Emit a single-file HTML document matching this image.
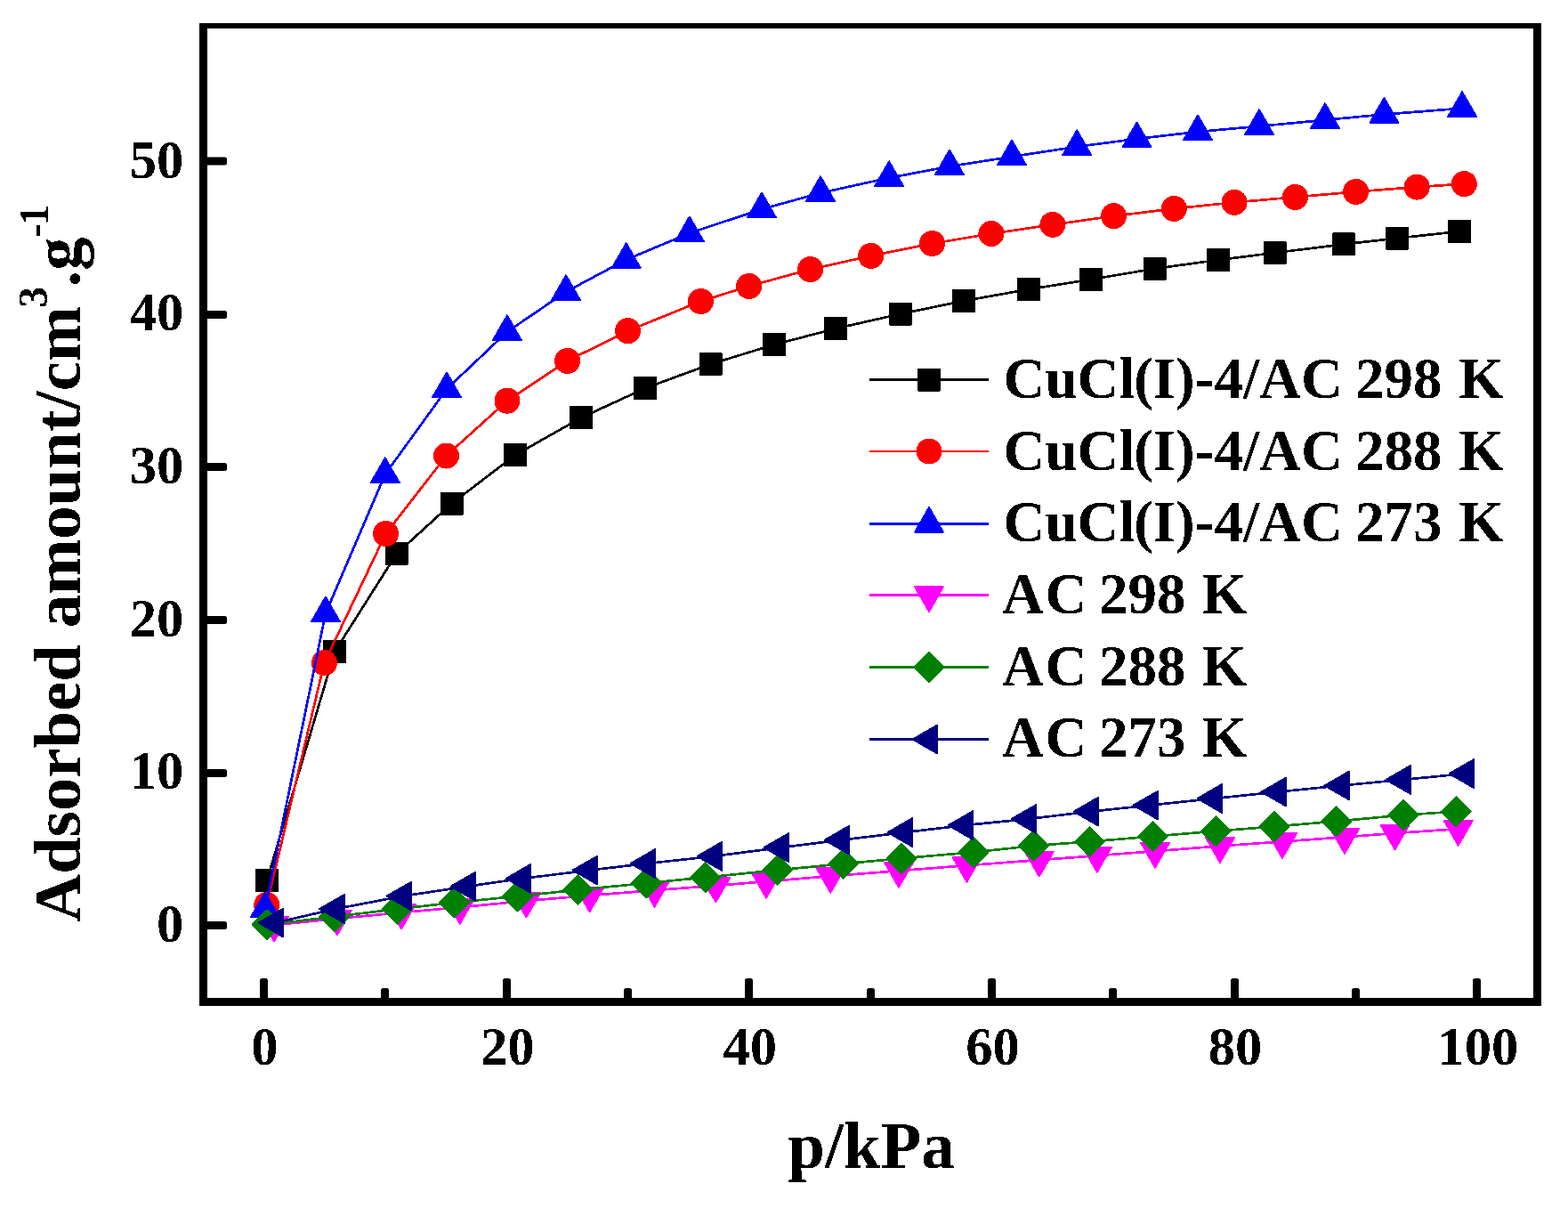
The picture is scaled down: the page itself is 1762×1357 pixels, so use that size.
<!DOCTYPE html>
<html lang="en">
<head>
<meta charset="utf-8">
<style>
html,body{margin:0;padding:0;background:#fff;}
body{width:1762px;height:1357px;overflow:hidden;}
svg{display:block;}
text{font-family:"Liberation Serif",serif;font-weight:bold;fill:#000;}
.tk{font-size:60.6px;}
.lg{font-size:65px;}
.ti{font-size:75px;}
</style>
</head>
<body>
<svg width="1762" height="1357" viewBox="0 0 1762 1357">
<defs><filter id="bw" x="-5%" y="-5%" width="110%" height="110%" color-interpolation-filters="sRGB"><feComponentTransfer><feFuncA type="discrete" tableValues="0 1"/></feComponentTransfer></filter></defs>
<rect x="0" y="0" width="1762" height="1357" fill="#fff"/>

<g shape-rendering="crispEdges" fill="#000">
<rect x="224" y="26" width="1508" height="6"/>
<rect x="224" y="1121" width="1508" height="9"/>
<rect x="224" y="26" width="9" height="1104"/>
<rect x="1723" y="26" width="9" height="1104"/>
</g>
<g fill="#000">
<path d="M292 1122V1101.5q0-2.5 2.5-2.5h4q2.5 0 2.5 2.5V1122z"/>
<path d="M428 1122V1112.5q0-2.5 2.5-2.5h4q2.5 0 2.5 2.5V1122z"/>
<path d="M565 1122V1101.5q0-2.5 2.5-2.5h4q2.5 0 2.5 2.5V1122z"/>
<path d="M701 1122V1112.5q0-2.5 2.5-2.5h4q2.5 0 2.5 2.5V1122z"/>
<path d="M837 1122V1101.5q0-2.5 2.5-2.5h4q2.5 0 2.5 2.5V1122z"/>
<path d="M974 1122V1112.5q0-2.5 2.5-2.5h4q2.5 0 2.5 2.5V1122z"/>
<path d="M1110 1122V1101.5q0-2.5 2.5-2.5h4q2.5 0 2.5 2.5V1122z"/>
<path d="M1246 1122V1112.5q0-2.5 2.5-2.5h4q2.5 0 2.5 2.5V1122z"/>
<path d="M1383 1122V1101.5q0-2.5 2.5-2.5h4q2.5 0 2.5 2.5V1122z"/>
<path d="M1519 1122V1112.5q0-2.5 2.5-2.5h4q2.5 0 2.5 2.5V1122z"/>
<path d="M1655 1122V1101.5q0-2.5 2.5-2.5h4q2.5 0 2.5 2.5V1122z"/>
<path d="M232 1035H252.5q2.5 0 2.5 2.5v4q0 2.5 -2.5 2.5H232z"/>
<path d="M232 864H252.5q2.5 0 2.5 2.5v4q0 2.5 -2.5 2.5H232z"/>
<path d="M232 692H252.5q2.5 0 2.5 2.5v4q0 2.5 -2.5 2.5H232z"/>
<path d="M232 520H252.5q2.5 0 2.5 2.5v4q0 2.5 -2.5 2.5H232z"/>
<path d="M232 349H252.5q2.5 0 2.5 2.5v4q0 2.5 -2.5 2.5H232z"/>
<path d="M232 176.5H252.5q2.5 0 2.5 2.5v4q0 2.5 -2.5 2.5H232z"/>
</g>
<g filter="url(#bw)">
<g class="tk" text-anchor="middle">
<text x="297.5" y="1196">0</text>
<text x="570.2" y="1196">20</text>
<text x="842.8" y="1196">40</text>
<text x="1115.5" y="1196">60</text>
<text x="1388.1" y="1196">80</text>
<text x="1660.8" y="1196">100</text>
</g>
<g class="tk" text-anchor="end">
<text x="206.3" y="1057.6">0</text>
<text x="206.3" y="886">10</text>
<text x="206.3" y="714.5">20</text>
<text x="206.3" y="542.9">30</text>
<text x="206.3" y="371.4">40</text>
<text x="206.3" y="199.8">50</text>
</g>
<text class="ti" x="979" y="1312" text-anchor="middle">p/kPa</text>
<text class="ti" style="font-size:74.8px" transform="translate(89.8 1035.7) rotate(-90)">Adsorbed amount/cm<tspan font-size="47" dx="-1.7" dy="-37">3</tspan><tspan dx="-0.4" dy="37">.g</tspan><tspan font-size="47" dx="-0.7 -2" dy="-36.5">-1</tspan></text>
</g>
<g shape-rendering="crispEdges">
<path d="M300 989L376.1 732.1L445.6 622.1L507.6 565.7L579.3 511L653 469.3L725.2 436L798.5 409.1L870 387.1L939.3 369.1L1012 352.6L1083.2 338L1156 325L1226.2 313.9L1297.5 301.8L1369.2 292L1432.5 284L1509.9 274.4L1570.1 267.6L1639.8 260" fill="none" stroke="#000000" stroke-width="2.7" stroke-linejoin="round"/>
<path d="M288 977h24v24h-24zM364.1 720.1h24v24h-24zM433.6 610.1h24v24h-24zM495.6 553.7h24v24h-24zM567.3 499h24v24h-24zM641 457.3h24v24h-24zM713.2 424h24v24h-24zM786.5 397.1h24v24h-24zM858 375.1h24v24h-24zM927.3 357.1h24v24h-24zM1000 340.6h24v24h-24zM1071.2 326h24v24h-24zM1144 313h24v24h-24zM1214.2 301.9h24v24h-24zM1285.5 289.8h24v24h-24zM1357.2 280h24v24h-24zM1420.5 272h24v24h-24zM1497.9 262.4h24v24h-24zM1558.1 255.6h24v24h-24zM1627.8 248h24v24h-24z" fill="#000000" stroke="#000000" stroke-width="2" stroke-linejoin="round"/>
<path d="M299.7 1016.6L364.4 744.6L433.5 599.6L501.5 512L570 450.2L637.6 405.4L705.5 371.7L787.4 338.5L841.7 321.4L910.6 302.6L978.7 287.4L1047.5 273.6L1113.9 262.5L1182.9 252.4L1251.5 242.7L1319.3 234.4L1387 227.4L1455.4 221.4L1523.6 215.4L1592.2 210.1L1645.3 206.6" fill="none" stroke="#ff0000" stroke-width="2.7" stroke-linejoin="round"/>
<circle cx="299.7" cy="1016.6" r="14.5" fill="#ff0000"/>
<circle cx="364.4" cy="744.6" r="14.5" fill="#ff0000"/>
<circle cx="433.5" cy="599.6" r="14.5" fill="#ff0000"/>
<circle cx="501.5" cy="512" r="14.5" fill="#ff0000"/>
<circle cx="570" cy="450.2" r="14.5" fill="#ff0000"/>
<circle cx="637.6" cy="405.4" r="14.5" fill="#ff0000"/>
<circle cx="705.5" cy="371.7" r="14.5" fill="#ff0000"/>
<circle cx="787.4" cy="338.5" r="14.5" fill="#ff0000"/>
<circle cx="841.7" cy="321.4" r="14.5" fill="#ff0000"/>
<circle cx="910.6" cy="302.6" r="14.5" fill="#ff0000"/>
<circle cx="978.7" cy="287.4" r="14.5" fill="#ff0000"/>
<circle cx="1047.5" cy="273.6" r="14.5" fill="#ff0000"/>
<circle cx="1113.9" cy="262.5" r="14.5" fill="#ff0000"/>
<circle cx="1182.9" cy="252.4" r="14.5" fill="#ff0000"/>
<circle cx="1251.5" cy="242.7" r="14.5" fill="#ff0000"/>
<circle cx="1319.3" cy="234.4" r="14.5" fill="#ff0000"/>
<circle cx="1387" cy="227.4" r="14.5" fill="#ff0000"/>
<circle cx="1455.4" cy="221.4" r="14.5" fill="#ff0000"/>
<circle cx="1523.6" cy="215.4" r="14.5" fill="#ff0000"/>
<circle cx="1592.2" cy="210.1" r="14.5" fill="#ff0000"/>
<circle cx="1645.3" cy="206.6" r="14.5" fill="#ff0000"/>
<path d="M297.8 1021L365.9 689L432.8 532.8L502 437L569.9 372.8L636 327.8L703.7 291.7L774.8 261.9L856 235L922 216.8L999.1 199.8L1067 187L1137 176L1210.2 164.8L1277.5 156L1346 148L1415 141.8L1489 134.8L1555.4 128.5L1643.1 121.7" fill="none" stroke="#0000ff" stroke-width="2.7" stroke-linejoin="round"/>
<path d="M297.8 1002.6L313.7 1030.2L281.9 1030.2zM365.9 670.6L381.8 698.2L350 698.2zM432.8 514.4L448.7 542L416.9 542zM502 418.6L517.9 446.2L486.1 446.2zM569.9 354.4L585.8 382L554 382zM636 309.4L651.9 337L620.1 337zM703.7 273.3L719.6 300.9L687.8 300.9zM774.8 243.5L790.7 271.1L758.9 271.1zM856 216.6L871.9 244.2L840.1 244.2zM922 198.4L937.9 226L906.1 226zM999.1 181.4L1015 209L983.2 209zM1067 168.6L1082.9 196.2L1051.1 196.2zM1137 157.6L1152.9 185.2L1121.1 185.2zM1210.2 146.4L1226.1 174L1194.3 174zM1277.5 137.6L1293.4 165.2L1261.6 165.2zM1346 129.6L1361.9 157.2L1330.1 157.2zM1415 123.4L1430.9 151L1399.1 151zM1489 116.4L1504.9 144L1473.1 144zM1555.4 110.1L1571.3 137.7L1539.5 137.7zM1643.1 103.3L1659 130.9L1627.2 130.9z" fill="#0000ff" stroke="#0000ff" stroke-width="2" stroke-linejoin="round"/>
<path d="M308 1039.1L378.8 1031.9L451 1025.1L516.8 1019.2L591.4 1012L662.6 1005.9L735.5 1000.1L804.3 994.9L861 990.2L933.3 984.2L1010 978.2L1086.4 972.2L1167.8 966.1L1232.8 961.2L1298 956.2L1371 950.4L1441 945.4L1511 940.3L1567.5 936L1638.7 931.2" fill="none" stroke="#ff00ff" stroke-width="2.7" stroke-linejoin="round"/>
<path d="M308 1057.5L323.9 1029.9L292.1 1029.9zM378.8 1050.3L394.7 1022.7L362.9 1022.7zM451 1043.5L466.9 1015.9L435.1 1015.9zM516.8 1037.6L532.7 1010L500.9 1010zM591.4 1030.4L607.3 1002.8L575.5 1002.8zM662.6 1024.3L678.5 996.7L646.7 996.7zM735.5 1018.5L751.4 990.9L719.6 990.9zM804.3 1013.3L820.2 985.7L788.4 985.7zM861 1008.6L876.9 981L845.1 981zM933.3 1002.6L949.2 975L917.4 975zM1010 996.6L1025.9 969L994.1 969zM1086.4 990.6L1102.3 963L1070.5 963zM1167.8 984.5L1183.7 956.9L1151.9 956.9zM1232.8 979.6L1248.7 952L1216.9 952zM1298 974.6L1313.9 947L1282.1 947zM1371 968.8L1386.9 941.2L1355.1 941.2zM1441 963.8L1456.9 936.2L1425.1 936.2zM1511 958.7L1526.9 931.1L1495.1 931.1zM1567.5 954.4L1583.4 926.8L1551.6 926.8zM1638.7 949.6L1654.6 922L1622.8 922z" fill="#ff00ff" stroke="#ff00ff" stroke-width="2" stroke-linejoin="round"/>
<path d="M300 1038.8L375.8 1029.7L446.4 1021.2L510.5 1013.9L581.4 1006.8L649.5 999.6L726.5 992L792.6 985.6L873.7 977.4L947.6 970.3L1013 964.3L1094.1 957.3L1161.3 950.1L1224.5 945.4L1295.5 939.6L1366.4 933.6L1432 928.5L1501.6 922.6L1576.9 915.6L1636.4 911.6" fill="none" stroke="#008000" stroke-width="2.7" stroke-linejoin="round"/>
<path d="M300 1022.4L316.4 1038.8L300 1055.2L283.6 1038.8zM375.8 1013.3L392.2 1029.7L375.8 1046.1L359.4 1029.7zM446.4 1004.8L462.8 1021.2L446.4 1037.6L430 1021.2zM510.5 997.5L526.9 1013.9L510.5 1030.3L494.1 1013.9zM581.4 990.4L597.8 1006.8L581.4 1023.2L565 1006.8zM649.5 983.2L665.9 999.6L649.5 1016L633.1 999.6zM726.5 975.6L742.9 992L726.5 1008.4L710.1 992zM792.6 969.2L809 985.6L792.6 1002L776.2 985.6zM873.7 961L890.1 977.4L873.7 993.8L857.3 977.4zM947.6 953.9L964 970.3L947.6 986.7L931.2 970.3zM1013 947.9L1029.4 964.3L1013 980.7L996.6 964.3zM1094.1 940.9L1110.5 957.3L1094.1 973.7L1077.7 957.3zM1161.3 933.7L1177.7 950.1L1161.3 966.5L1144.9 950.1zM1224.5 929L1240.9 945.4L1224.5 961.8L1208.1 945.4zM1295.5 923.2L1311.9 939.6L1295.5 956L1279.1 939.6zM1366.4 917.2L1382.8 933.6L1366.4 950L1350 933.6zM1432 912.1L1448.4 928.5L1432 944.9L1415.6 928.5zM1501.6 906.2L1518 922.6L1501.6 939L1485.2 922.6zM1576.9 899.2L1593.3 915.6L1576.9 932L1560.5 915.6zM1636.4 895.2L1652.8 911.6L1636.4 928L1620 911.6z" fill="#008000" stroke="#008000" stroke-width="2" stroke-linejoin="round"/>
<path d="M309 1036.6L377.7 1020.9L453 1006.6L524.9 995.8L587.1 986.9L662 977.6L727 970L801.9 961.9L876.9 952.1L945 943.7L1016 935.1L1084.1 927.1L1155.1 920L1225 911.7L1292 904.6L1363.9 897L1435.9 889.6L1506.9 882.5L1575.9 875.9L1646.9 869.1" fill="none" stroke="#000080" stroke-width="2.7" stroke-linejoin="round"/>
<path d="M290.6 1036.6L318.2 1020.7L318.2 1052.5zM359.3 1020.9L386.9 1005L386.9 1036.8zM434.6 1006.6L462.2 990.7L462.2 1022.5zM506.5 995.8L534.1 979.9L534.1 1011.7zM568.7 986.9L596.3 971L596.3 1002.8zM643.6 977.6L671.2 961.7L671.2 993.5zM708.6 970L736.2 954.1L736.2 985.9zM783.5 961.9L811.1 946L811.1 977.8zM858.5 952.1L886.1 936.2L886.1 968zM926.6 943.7L954.2 927.8L954.2 959.6zM997.6 935.1L1025.2 919.2L1025.2 951zM1065.7 927.1L1093.3 911.2L1093.3 943zM1136.7 920L1164.3 904.1L1164.3 935.9zM1206.6 911.7L1234.2 895.8L1234.2 927.6zM1273.6 904.6L1301.2 888.7L1301.2 920.5zM1345.5 897L1373.1 881.1L1373.1 912.9zM1417.5 889.6L1445.1 873.7L1445.1 905.5zM1488.5 882.5L1516.1 866.6L1516.1 898.4zM1557.5 875.9L1585.1 860L1585.1 891.8zM1628.5 869.1L1656.1 853.2L1656.1 885z" fill="#000080" stroke="#000080" stroke-width="2" stroke-linejoin="round"/>
</g>
<g shape-rendering="crispEdges">
<path d="M977 426.5H1111" stroke="#000000" stroke-width="2.7" fill="none"/>
<path d="M1032 414.5h24v24h-24z" fill="#000000" stroke="#000000" stroke-width="2" stroke-linejoin="round"/>
<path d="M977 507H1111" stroke="#ff0000" stroke-width="2.7" fill="none"/>
<circle cx="1044" cy="507" r="14.5" fill="#ff0000"/>
<path d="M977 588.5H1111" stroke="#0000ff" stroke-width="2.7" fill="none"/>
<path d="M1044 570.1L1059.9 597.7L1028.1 597.7z" fill="#0000ff" stroke="#0000ff" stroke-width="2" stroke-linejoin="round"/>
<path d="M977 668.5H1111" stroke="#ff00ff" stroke-width="2.7" fill="none"/>
<path d="M1044 686.9L1059.9 659.3L1028.1 659.3z" fill="#ff00ff" stroke="#ff00ff" stroke-width="2" stroke-linejoin="round"/>
<path d="M977 749.5H1111" stroke="#008000" stroke-width="2.7" fill="none"/>
<path d="M1044 733.1L1060.4 749.5L1044 765.9L1027.6 749.5z" fill="#008000" stroke="#008000" stroke-width="2" stroke-linejoin="round"/>
<path d="M977 830.5H1111" stroke="#000080" stroke-width="2.7" fill="none"/>
<path d="M1025.6 830.5L1053.2 814.6L1053.2 846.4z" fill="#000080" stroke="#000080" stroke-width="2" stroke-linejoin="round"/>
</g>
<g filter="url(#bw)">
<text class="lg" x="1127.5" y="447" dx="0 0 0 0 -1.5 0 0 0 0 0 0 0 0 -2.1 0 0 0 2.5">CuCl(I)-4/AC 298 K</text>
<text class="lg" x="1127.5" y="528" dx="0 0 0 0 -1.5 0 0 0 0 0 0 0 0 -2.1 0 0 0 2.5">CuCl(I)-4/AC 288 K</text>
<text class="lg" x="1127.5" y="608" dx="0 0 0 0 -1.5 0 0 0 0 0 0 0 0 -2.1 0 0 0 2.5">CuCl(I)-4/AC 273 K</text>
<text class="lg" x="1126" y="689" dx="0 1.5 0 -2.7 0 0 0 2.1">AC 298 K</text>
<text class="lg" x="1126" y="770" dx="0 1.5 0 -2.7 0 0 0 2.1">AC 288 K</text>
<text class="lg" x="1126" y="850" dx="0 1.5 0 -2.7 0 0 0 2.1">AC 273 K</text>
</g>
</svg>
</body>
</html>
